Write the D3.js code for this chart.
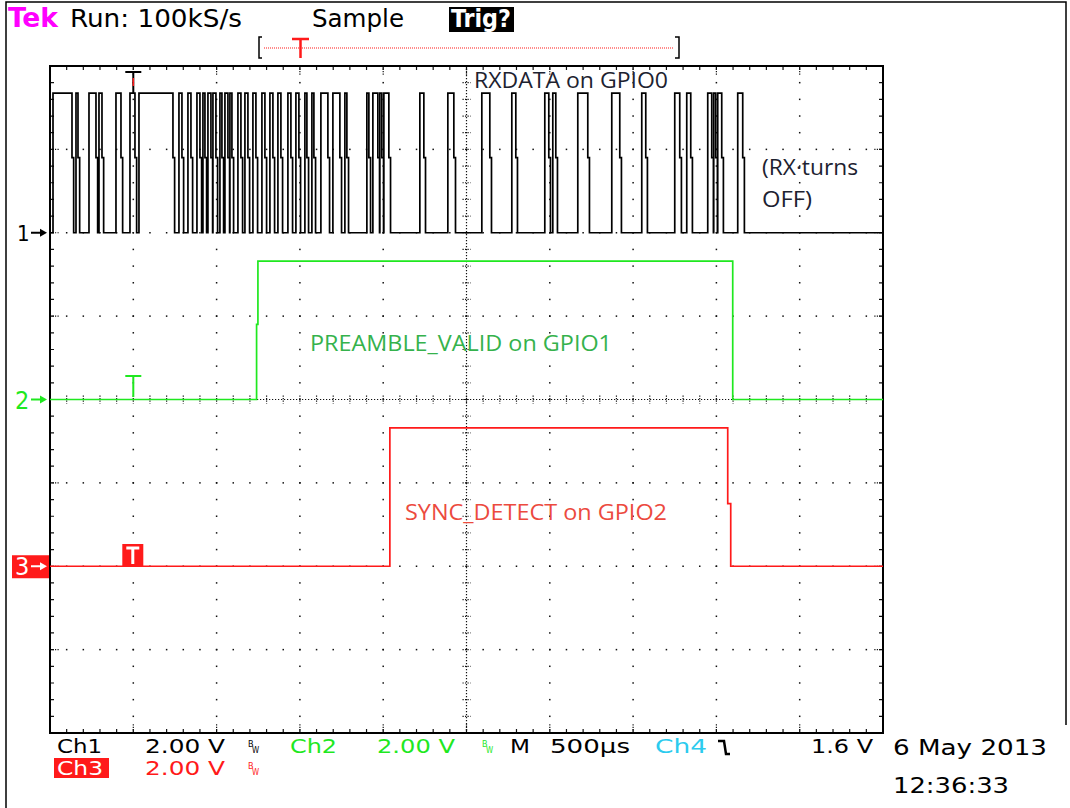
<!DOCTYPE html>
<html>
<head>
<meta charset="utf-8">
<script src="https://cdn.jsdelivr.net/npm/d3@7"></script>
<style>
  body { margin: 0; background: #fff; }
  svg { display: block; }
  .tek { font-family: "Liberation Sans Narrow", "DejaVu Sans Condensed", "Liberation Sans", sans-serif; }
  .note { font-family: "Open Sans", "Noto Sans", sans-serif; }
</style>
</head>
<body>
<div id="plot"></div>
<script>
// time in µs (500 µs/div, trigger at t = 0), levels in volts (2 V/div)

// RXDATA on GPIO0: high pulses [start, end]
var rxPulses = [
  [-482, -368], [-344, -332], [-266, -224], [-206, -188], [-104, -74], [-20, 10], [34, 238],
  [274, 292], [328, 346], [382, 400], [418, 430], [448, 466], [478, 496], [520, 532],
  [550, 568], [580, 592], [628, 646], [670, 688], [718, 736], [772, 790], [820, 838],
  [868, 886], [928, 946], [976, 994], [1030, 1042], [1072, 1084], [1126, 1168], [1198, 1240],
  [1270, 1282], [1402, 1414], [1438, 1468], [1480, 1492], [1504, 1534],
  [1720, 1744], [1888, 1924], [2092, 2140], [2272, 2296], [2470, 2494], [2518, 2536],
  [2668, 2728], [2872, 2920], [3052, 3076], [3250, 3280], [3322, 3346], [3448, 3472],
  [3484, 3496], [3508, 3532], [3628, 3658]
];
var rxLevels = [0, 1.8, 3.35];          // low, falling-edge sample, high

// PREAMBLE_VALID on GPIO1 and SYNC_DETECT on GPIO2: [time, volts] steps
var preambleSteps = [[-500, 0], [740, 1.8], [748, 3.32], [3598, 0], [4500, 0]];
var syncSteps = [[-500, 0], [1540, 3.32], [3568, 1.5], [3586, 0], [4500, 0]];

var chOffsets = [2, 0, -2];             // ground markers, divisions from centre

var headerText = ["Tek", "Run: 100kS/s", "Sample", "Trig?"];
var chanText = [["Ch1", "2.00 V"], ["Ch2", "2.00 V"], ["Ch3", "2.00 V"]];
var timeText = ["M", "500µs"];
var trigText = ["Ch4", "1.6 V"];
var dateText = ["6 May 2013", "12:36:33"];
var notes = ["RXDATA on GPIO0", "(RX·turns", "OFF)", "PREAMBLE_VALID on GPIO1", "SYNC_DETECT on GPIO2"];

var W = 1070, H = 808;
var X0 = 50, X1 = 883, Y0 = 66, Y1 = 733;
var GREEN = "#1fe81f", RED = "#ff1a1a", CYAN = "#2ccbee", MAGENTA = "#ff00ff";

var svg = d3.select("#plot").append("svg")
    .attr("width", W)
    .attr("height", H);

var xd = d3.scaleLinear().domain([0, 10]).range([X0, X1]);
var yd = d3.scaleLinear().domain([-4, 4]).range([Y1, Y0]);
var x = d3.scaleLinear().domain([-500, 4500]).range([X0, X1]);
var yv = function (ch, v) { return yd(v / 2 + chOffsets[ch]); };

function txt(str, px, py, size, fill, len, cls) {
    var t = svg.append("text")
        .attr("class", cls || "tek")
        .attr("x", px).attr("y", py)
        .attr("font-size", size)
        .attr("fill", fill)
        .text(str);
    if (len) t.attr("textLength", len).attr("lengthAdjust", "spacingAndGlyphs");
    return t;
}

// outer frame
svg.append("path")
    .attr("d", "M6,808 V2 H1066 V725")
    .attr("fill", "none").attr("stroke", "#000").attr("stroke-width", 1.5);

// ---- graticule ----
var grid = svg.append("g").attr("fill", "#111");
var minorX = d3.range(1, 50).map(function (i) { return i * 0.2; });
var minorY = d3.range(1, 40).map(function (j) { return -4 + j * 0.2; });

[1, 2, 3, 4, 6, 7, 8, 9].forEach(function (i) {
    grid.selectAll(null).data(minorY).enter().append("rect")
        .attr("x", xd(i) - 0.75).attr("y", function (d) { return yd(d) - 0.75; })
        .attr("width", 1.5).attr("height", 1.5);
});
[-3, -2, -1, 1, 2, 3].forEach(function (j) {
    grid.selectAll(null).data(minorX).enter().append("rect")
        .attr("x", function (d) { return xd(d) - 0.75; }).attr("y", yd(j) - 0.75)
        .attr("width", 1.5).attr("height", 1.5);
});

// centre lines
var cx = xd(5), cy = yd(0);
svg.append("line").attr("x1", cx).attr("x2", cx).attr("y1", Y0).attr("y2", Y1)
    .attr("stroke", "#111").attr("stroke-width", 1.2).attr("stroke-dasharray", "1.2,1.8");
svg.append("line").attr("x1", X0).attr("x2", X1).attr("y1", cy).attr("y2", cy)
    .attr("stroke", "#111").attr("stroke-width", 1.2).attr("stroke-dasharray", "1.2,1.8");
svg.selectAll(null).data(minorY).enter().append("line")
    .attr("x1", cx - 4).attr("x2", cx + 4)
    .attr("y1", function (d) { return yd(d); }).attr("y2", function (d) { return yd(d); })
    .attr("stroke", "#111").attr("stroke-width", 1.2).attr("stroke-dasharray", "1.2,1.3");
svg.selectAll(null).data(minorX).enter().append("line")
    .attr("y1", cy - 4).attr("y2", cy + 4)
    .attr("x1", function (d) { return xd(d); }).attr("x2", function (d) { return xd(d); })
    .attr("stroke", "#111").attr("stroke-width", 1.2).attr("stroke-dasharray", "1.2,1.3");

// border ticks
var ticks = svg.append("g").attr("stroke", "#111").attr("stroke-width", 1.2);
ticks.selectAll(null).data(minorX).enter().append("path")
    .attr("d", function (d) { return "M" + xd(d) + "," + Y0 + "v4M" + xd(d) + "," + Y1 + "v-4"; });
ticks.selectAll(null).data(minorY).enter().append("path")
    .attr("d", function (d) { return "M" + X0 + "," + yd(d) + "h4M" + X1 + "," + yd(d) + "h-4"; });
ticks.selectAll(null).data(d3.range(1, 10)).enter().append("path")
    .attr("stroke-dasharray", "1.2,1.3")
    .attr("d", function (d) { return "M" + xd(d) + "," + Y0 + "v9M" + xd(d) + "," + Y1 + "v-9"; });
ticks.selectAll(null).data(d3.range(-3, 4)).enter().append("path")
    .attr("stroke-dasharray", "1.2,1.3")
    .attr("d", function (d) { return "M" + X0 + "," + yd(d) + "h9M" + X1 + "," + yd(d) + "h-9"; });

svg.append("rect")
    .attr("x", X0).attr("y", Y0).attr("width", X1 - X0).attr("height", Y1 - Y0)
    .attr("fill", "none").attr("stroke", "#000").attr("stroke-width", 2);

// ---- traces ----
var rxSteps = [[-500, rxLevels[0]]];
rxPulses.forEach(function (p) {
    rxSteps.push([p[0], rxLevels[2]]);
    rxSteps.push([p[1], rxLevels[1]]);
    rxSteps.push([p[1] + 10, rxLevels[0]]);
});
rxSteps.push([4500, rxLevels[0]]);

function trace(steps, ch, color) {
    var line = d3.line()
        .x(function (d) { return x(d[0]); })
        .y(function (d) { return yv(ch, d[1]); })
        .curve(d3.curveStepAfter);
    svg.append("path")
        .datum(steps)
        .attr("d", line)
        .attr("fill", "none")
        .attr("stroke", color)
        .attr("stroke-width", 1.7);
}
trace(rxSteps, 0, "#000");
trace(preambleSteps, 1, GREEN);
trace(syncSteps, 2, RED);

// trigger markers on traces
var tx = x(0);
svg.append("path").attr("d", "M" + (tx - 8) + ",72H" + (tx + 8) + "M" + tx + ",72V93")
    .attr("stroke", "#000").attr("stroke-width", 2).attr("fill", "none");
svg.append("path").attr("d", "M" + tx + ",78V86").attr("stroke", RED).attr("stroke-width", 1.5);
svg.append("path").attr("d", "M" + (tx - 8) + ",376H" + (tx + 8) + "M" + tx + ",376V397")
    .attr("stroke", GREEN).attr("stroke-width", 2).attr("fill", "none");
svg.append("rect").attr("x", tx - 11).attr("y", 544).attr("width", 21).attr("height", 22).attr("fill", RED);
svg.append("path").attr("d", "M" + (tx - 7) + ",548H" + (tx + 6) + "M" + (tx - 0.5) + ",548V564")
    .attr("stroke", "#fff").attr("stroke-width", 3).attr("fill", "none");

// channel ground markers
function arrow(x1, y, color) {
    svg.append("path").attr("d", "M" + x1 + "," + y + "H" + (x1 + 11))
        .attr("stroke", color).attr("stroke-width", 2);
    svg.append("path").attr("d", "M" + (x1 + 9) + "," + (y - 4) + "L" + (x1 + 16) + "," + y + "L" + (x1 + 9) + "," + (y + 4) + "Z")
        .attr("fill", color);
}
txt("1", 17, yv(0, 0) + 8, 22, "#000");
arrow(31, yv(0, 0), "#000");
txt("2", 15, yv(1, 0) + 9, 25, GREEN);
arrow(31, yv(1, 0), GREEN);
svg.append("rect").attr("x", 12).attr("y", yv(2, 0) - 11).attr("width", 37).attr("height", 23).attr("fill", RED);
txt("3", 15, yv(2, 0) + 9, 25, "#fff");
arrow(31, yv(2, 0), "#fff");

// ---- header ----
txt(headerText[0], 8, 27, 27, MAGENTA, 50).attr("font-weight", "bold");
txt(headerText[1], 70, 27, 25, "#000", 172);
txt(headerText[2], 312, 27, 25, "#000", 92);
svg.append("rect").attr("x", 449).attr("y", 7).attr("width", 65).attr("height", 25).attr("fill", "#000");
txt(headerText[3], 451, 27, 25, "#fff", 60).attr("font-weight", "bold");

// record / trigger position bar
svg.append("path").attr("d", "M262,37H259V58H262M675,37H679V58H675")
    .attr("fill", "none").attr("stroke", "#000").attr("stroke-width", 1.5);
svg.append("path").attr("d", "M264,48H674")
    .attr("stroke", RED).attr("stroke-width", 1.2).attr("stroke-dasharray", "1,1");
svg.append("path").attr("d", "M292,39H309M300.5,39V58")
    .attr("fill", "none").attr("stroke", RED).attr("stroke-width", 2.5);

// ---- footer ----
function bw(px, py, color) {
    txt("B", px, py - 6, 9, color);
    txt("W", px + 4, py, 8, color);
}
var FS = 20;
txt(chanText[0][0], 57, 753, FS, "#000", 45);
txt(chanText[0][1], 145, 753, FS, "#000", 80);
bw(248, 753, "#000");
txt(chanText[1][0], 290, 753, FS, GREEN, 47);
txt(chanText[1][1], 377, 753, FS, GREEN, 78);
bw(482, 753, GREEN);
txt(timeText[0], 510, 753, FS, "#000", 20);
txt(timeText[1], 550, 753, FS, "#000", 80);
txt(trigText[0], 655, 753, FS, CYAN, 52);
svg.append("path").attr("d", "M718,741H724L726,754H730")
    .attr("fill", "none").attr("stroke", "#000").attr("stroke-width", 2.5);
txt(trigText[1], 811, 753, FS, "#000", 62);

svg.append("rect").attr("x", 54).attr("y", 758).attr("width", 55).attr("height", 20).attr("fill", RED);
txt(chanText[2][0], 57, 775, FS, "#fff", 46);
txt(chanText[2][1], 145, 775, FS, RED, 80);
bw(248, 775, RED);

txt(dateText[0], 893, 755, 21, "#000", 154);
txt(dateText[1], 893, 793, 21, "#000", 116);

// ---- annotations ----
var NOTE_DARK = "#1d2230";
txt(notes[0], 474, 88, 22, NOTE_DARK, 194, "note");
txt(notes[1], 762, 175, 22, NOTE_DARK, 96, "note");
txt(notes[2], 762, 207, 22, NOTE_DARK, 50, "note");
txt(notes[3], 310, 351, 22, "#35b24c", 302, "note");
txt(notes[4], 405, 520, 22, "#ec4a3e", 262, "note");
</script>
</body>
</html>
